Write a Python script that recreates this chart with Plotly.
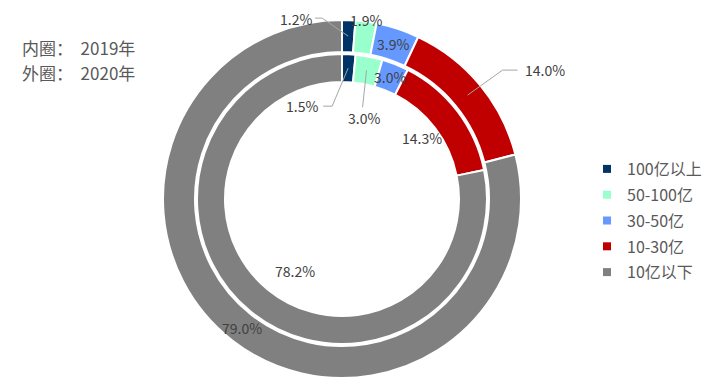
import math
import plotly.graph_objects as go

categories = ["100亿以上", "50-100亿", "30-50亿", "10-30亿", "10亿以下"]
values_2019 = [1.5, 3.0, 3.0, 14.3, 78.2]   # inner ring
values_2020 = [1.2, 1.9, 3.9, 14.0, 79.0]   # outer ring
colors = ["#003366", "#99FFCC", "#6699FF", "#C00000", "#808080"]
title_lines = ["内圈：&nbsp; 2019年", "外圈：&nbsp; 2020年"]

W, H = 707, 387
CX, CY = 342, 199          # pie centre in pixels (from top-left)
R_OUT, R_OUT_IN = 179, 147
R_IN, R_IN_IN = 145, 117

# label placement styles: (anchor radius px, leader points offsets, text offset)
outer_label_style = [
    (163, [(-26, -18), (-33, -18)], (-52, -17)),
    (181, None, (0, 0)),
    (163, None, (0, 0)),
    (163, [(35, -25), (50, -25)], (77, -25)),
    (163, None, (0, 0)),
]
inner_label_style = [
    (131, [(-16, 38), (-25, 38)], (-46, 38)),
    (131, [(-4, 37)], (-3, 48)),
    (131, None, (0, 0)),
    (100, None, (0, 0)),
    (86, None, (7, 5)),
]

fig = go.Figure()

def dom(r):
    return dict(x=[(CX - r) / W, (CX + r) / W], y=[(H - CY - r) / H, (H - CY + r) / H])

fig.add_trace(go.Pie(labels=categories, values=values_2020, sort=False, direction="clockwise",
                     rotation=0, hole=R_OUT_IN / R_OUT, domain=dom(R_OUT), textinfo="none",
                     hoverinfo="label+percent", showlegend=False,
                     marker=dict(colors=colors, line=dict(color="white", width=2))))
fig.add_trace(go.Pie(labels=categories, values=values_2019, sort=False, direction="clockwise",
                     rotation=0, hole=R_IN_IN / R_IN, domain=dom(R_IN), textinfo="none",
                     hoverinfo="label+percent", showlegend=False,
                     marker=dict(colors=colors, line=dict(color="white", width=2))))

def to_paper(px, py):
    return px / W, (H - py) / H

def add_labels(vals, styles):
    total = sum(vals)
    cum = 0
    for v, (r, leader, toff) in zip(vals, styles):
        mid = (cum + v / 2) / total * 2 * math.pi
        cum += v
        px = CX + r * math.sin(mid)
        py = CY - r * math.cos(mid)
        if leader:
            pts = [(px, py)] + [(px + dx, py + dy) for dx, dy in leader]
            path = ""
            for k, (qx, qy) in enumerate(pts):
                X, Y = to_paper(qx, qy)
                path += ("M" if k == 0 else " L") + f"{X:.5f},{Y:.5f}"
            fig.add_shape(type="path", path=path, xref="paper", yref="paper",
                          line=dict(color="#A6A6A6", width=1))
        tx, ty = to_paper(px + toff[0], py + toff[1])
        fig.add_annotation(x=tx, y=ty, xref="paper", yref="paper", text=f"{v:.1f}%",
                           xanchor="center", yanchor="middle",
                           showarrow=False, font=dict(size=14, color="#404040"))

add_labels(values_2020, outer_label_style)
add_labels(values_2019, inner_label_style)

# legend via dummy traces
for c, col in zip(categories, colors):
    fig.add_trace(go.Scatter(x=[None], y=[None], mode="markers", name=c, legendgroup=c,
                             marker=dict(symbol="square", size=8, color=col)))

for i, line in enumerate(title_lines):
    fig.add_annotation(x=20 / W, y=(H - (47 + 26 * i)) / H, xref="paper", yref="paper",
                       xanchor="left", yanchor="middle", showarrow=False, text=line,
                       font=dict(size=17, color="#595959"))

fig.update_layout(
    width=W, height=H, margin=dict(l=0, r=0, t=0, b=0, autoexpand=False),
    paper_bgcolor="white", plot_bgcolor="white",
    font=dict(family="Noto Sans CJK SC", color="#595959"),
    xaxis=dict(visible=False), yaxis=dict(visible=False),
    legend=dict(x=587 / W, y=(H - 152) / H, xanchor="left", yanchor="top",
                font=dict(size=16, color="#595959"), traceorder="grouped", tracegroupgap=2,
                itemwidth=30, bgcolor="rgba(0,0,0,0)"),
)

fig.write_html("out.html", config={"displayModeBar": False},
               post_script="document.body.style.margin='0';")
